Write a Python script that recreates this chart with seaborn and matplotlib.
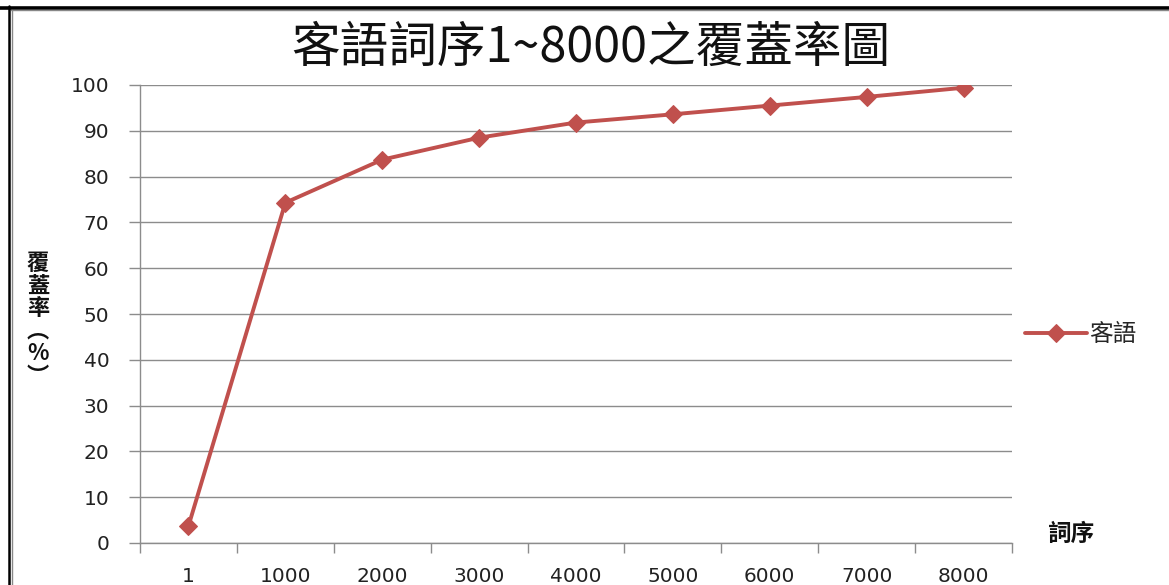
import matplotlib
matplotlib.use("Agg")
import matplotlib.pyplot as plt
import seaborn as sns
import pandas as pd
from matplotlib.lines import Line2D

categories = ["1", "1000", "2000", "3000", "4000", "5000", "6000", "7000", "8000"]
coverage = [3.7, 74.3, 83.7, 88.5, 91.8, 93.6, 95.5, 97.4, 99.4]
series_name = "客語"
title = "客語詞序1~8000之覆蓋率圖"
xlabel = "詞序"
ylabel = "覆\n蓋\n率\n︵\n%\n︶"
yticks = [0, 10, 20, 30, 40, 50, 60, 70, 80, 90, 100]

sns.set_theme(style="white")
plt.rcParams["font.family"] = ["DejaVu Sans", "Noto Sans CJK TC"]
cjk = ["Noto Sans CJK TC", "DejaVu Sans"]

df = pd.DataFrame({"x": categories, "y": coverage, "s": series_name})

W, H = 1169, 585
fig = plt.figure(figsize=(W / 100, H / 100), dpi=100)
ax = fig.add_axes([140 / W, 1 - 543 / H, (1012 - 140) / W, (543 - 85) / H])

color = "#C0504D"
sns.lineplot(data=df, x="x", y="y", hue="s", palette=[color], marker="D",
             markersize=9, markeredgecolor=color, linewidth=2.8, ax=ax,
             sort=False)

ax.set_xlim(-0.5, len(categories) - 0.5)
ax.set_ylim(0, 100)
ax.set_yticks(yticks)
ax.set_yticklabels([str(v) for v in yticks], fontsize=14.5, color="#222222")
ax.yaxis.grid(True, color="#8c8c8c", linewidth=1)
ax.xaxis.grid(False)
ax.tick_params(axis="y", length=8, width=1, color="#8c8c8c", pad=14, left=True)

ax.set_xticks(range(len(categories)))
ax.set_xticklabels(categories, fontsize=14.5, color="#222222")
ax.set_xticks([i - 0.5 for i in range(len(categories) + 1)], minor=True)
ax.tick_params(axis="x", which="major", length=0, pad=17)
ax.tick_params(axis="x", which="minor", length=7, width=1, color="#8c8c8c", bottom=True)

for s in ["top", "right"]:
    ax.spines[s].set_visible(False)
for s in ["left", "bottom"]:
    ax.spines[s].set_color("#8c8c8c")
    ax.spines[s].set_linewidth(1)

ax.set_xlabel("")
ax.set_ylabel("")

fig.text(591 / W, 1 - 48 / H, title, ha="center", va="center", fontsize=35,
         family=cjk, color="#111111")
fig.text(1072 / W, 1 - 534 / H, xlabel, ha="center", va="center", fontsize=17,
         family=cjk, fontweight="bold", color="#111111")
fig.text(38 / W, 1 - 320 / H, ylabel, ha="center", va="center", fontsize=16,
         family=cjk, fontweight="bold", color="#111111", linespacing=0.98)

leg = ax.legend(loc="center left", bbox_to_anchor=(0.991, 0.455), frameon=False,
                prop={"family": cjk, "size": 17}, handlelength=2.6,
                handletextpad=0.1)

# outer border (top and left)
fig.add_artist(Line2D([0, 1], [1 - 7.5 / H, 1 - 7.5 / H], color="black", linewidth=2.6,
                      transform=fig.transFigure))
fig.add_artist(Line2D([11 / W, 1], [1 - 10 / H, 1 - 10 / H], color="#888888", linewidth=1,
                      transform=fig.transFigure))
fig.add_artist(Line2D([9 / W, 9 / W], [0, 1 - 6 / H], color="black", linewidth=1.8,
                      transform=fig.transFigure))
fig.add_artist(Line2D([11.5 / W, 11.5 / W], [0, 1 - 10 / H], color="#888888", linewidth=1,
                      transform=fig.transFigure))

fig.savefig("out.png", dpi=100)
